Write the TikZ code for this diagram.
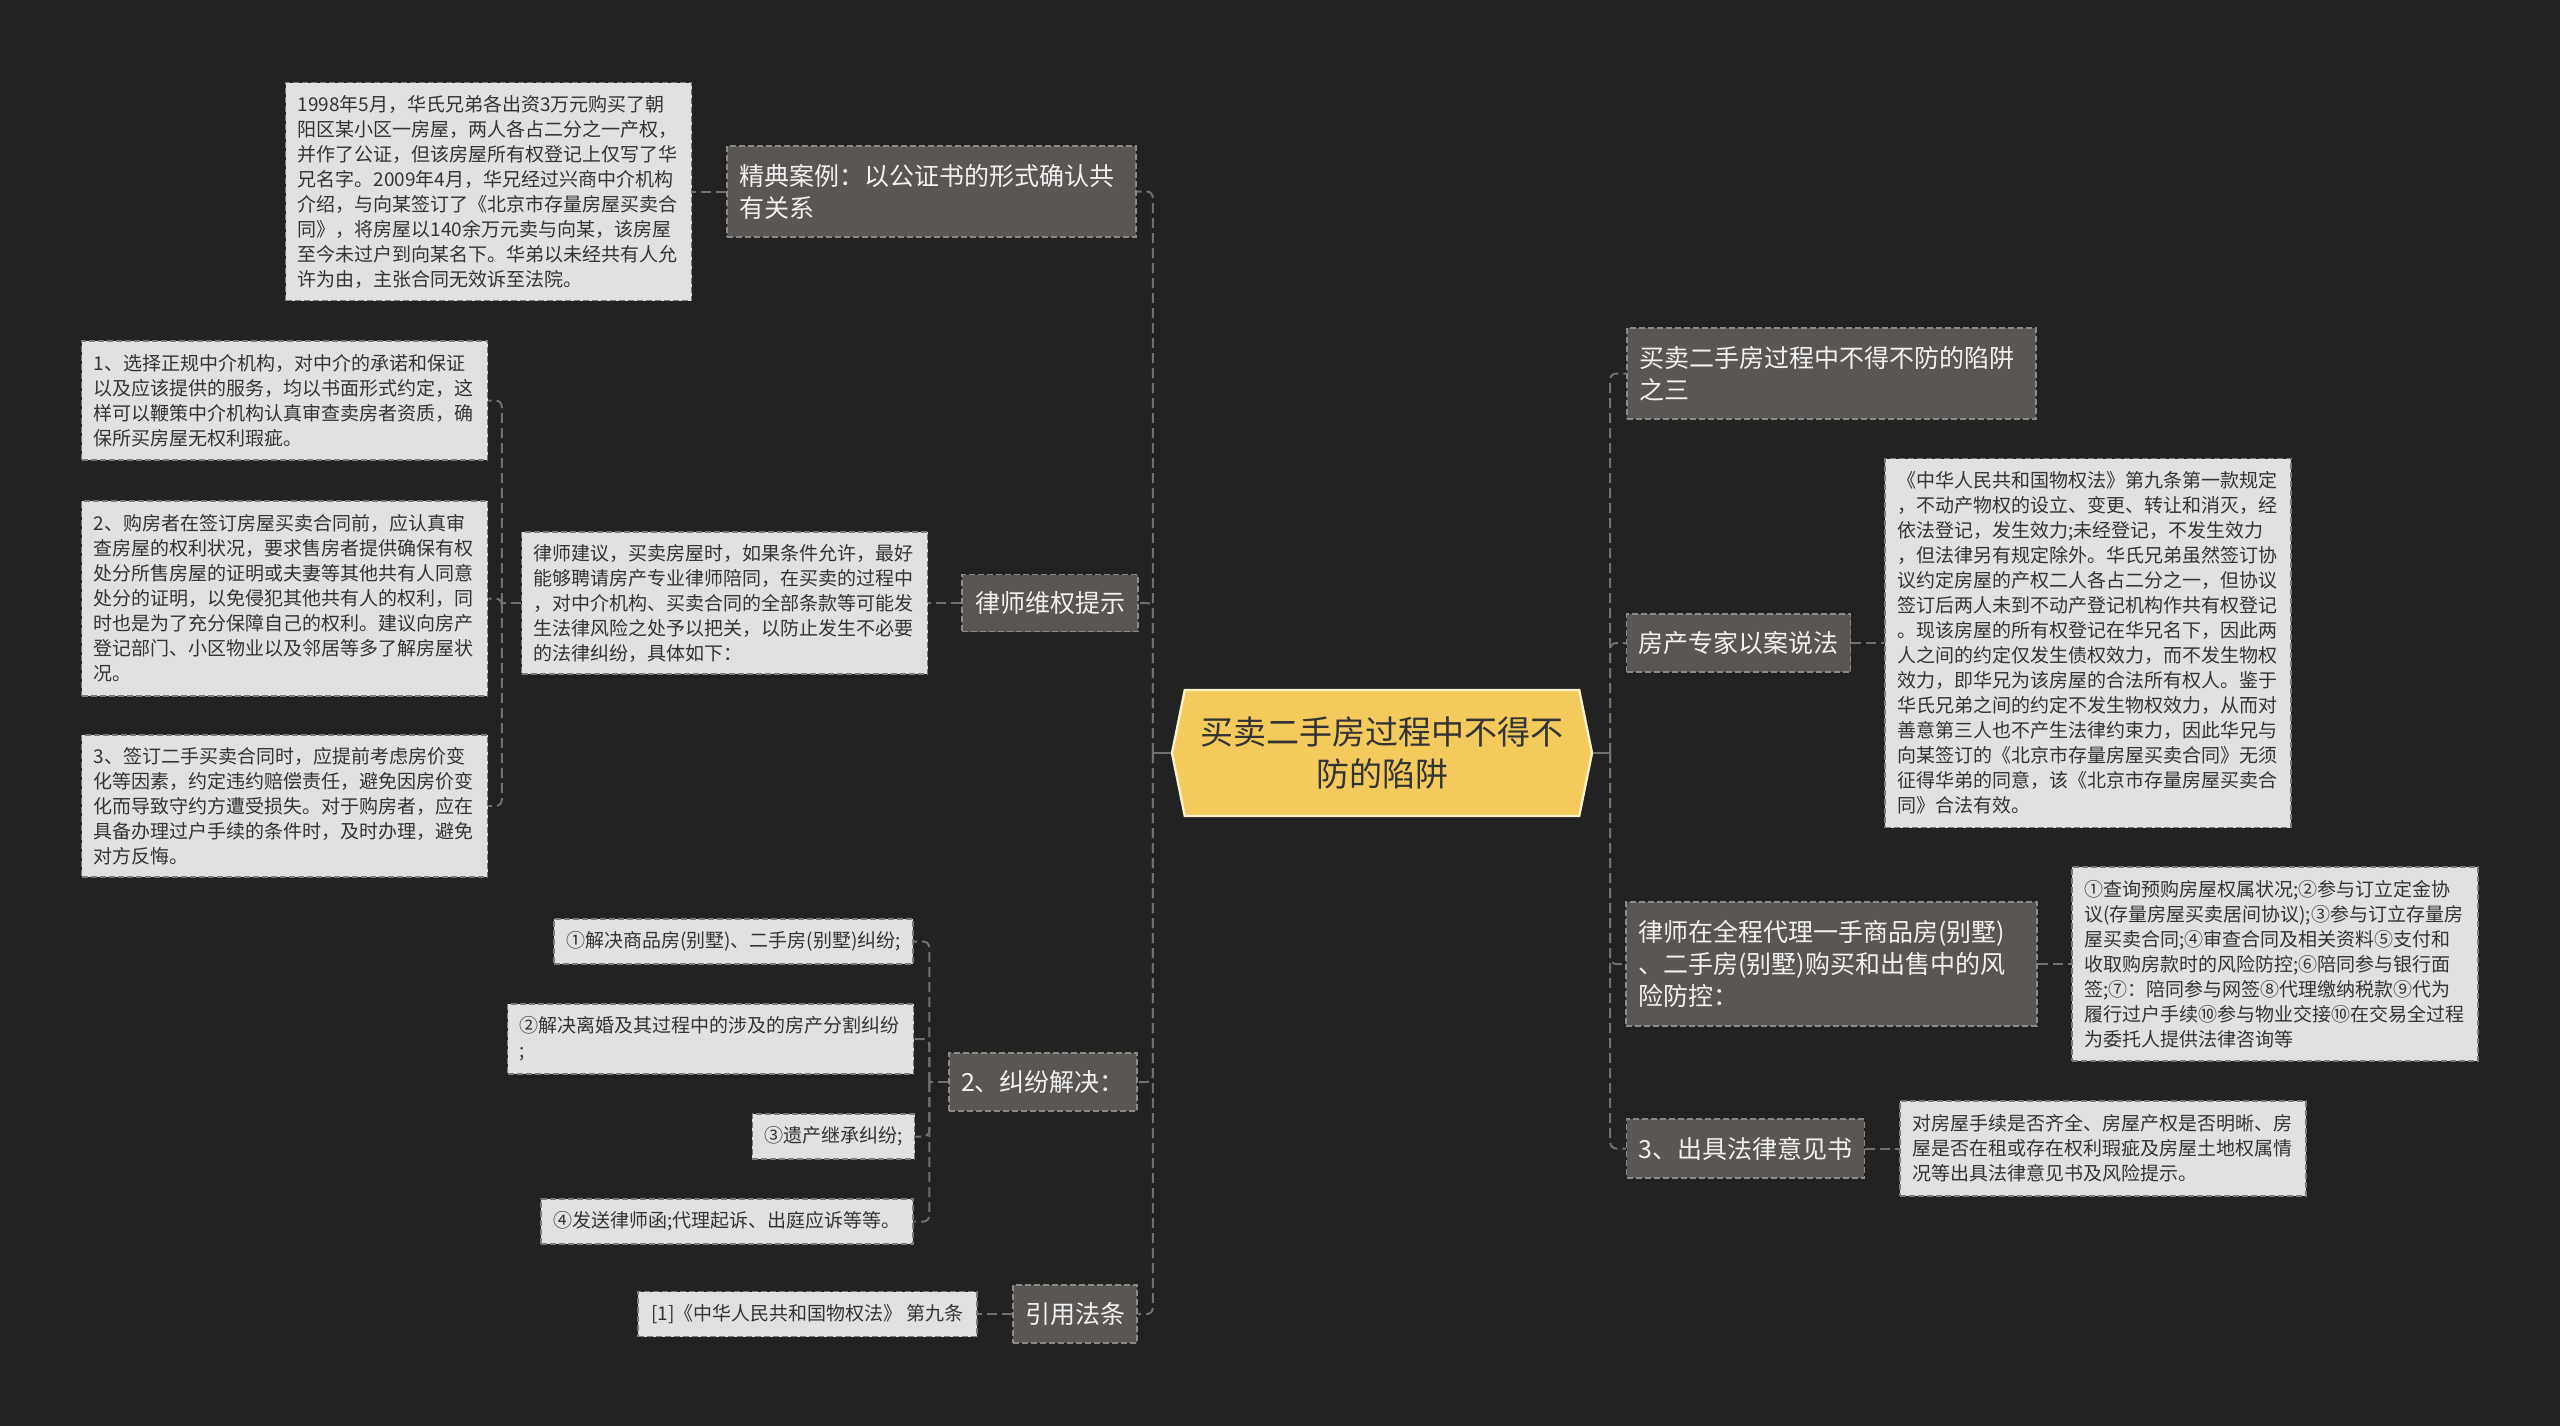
\documentclass[tikz,border=0pt]{standalone}
\usepackage{fontspec}
\setmainfont{Noto Sans CJK SC}
\usetikzlibrary{shapes.symbols}
\definecolor{bgcol}{HTML}{222222}
\definecolor{branchcol}{HTML}{5A5653}
\definecolor{branchline}{HTML}{8C8884}
\definecolor{leafcol}{HTML}{E1E1E1}
\definecolor{leafline}{HTML}{7A7A7A}
\definecolor{rootcol}{HTML}{F4CA5C}
\definecolor{rootline}{HTML}{FBF0C8}
\definecolor{linkcol}{HTML}{707070}
\definecolor{inkcol}{HTML}{333333}
\tikzset{
	branch/.style={draw=branchline, fill=branchcol, line width=0.75pt, dash pattern=on 3pt off 1.5pt, text=white!95!black, font=\fontsize{12.5pt}{16pt}\selectfont, align=left, inner xsep=6pt, inner ysep=0pt},
	leaf/.style={draw=leafline, fill=leafcol, line width=0.75pt, dash pattern=on 3pt off 1.5pt, text=inkcol, font=\fontsize{9.5pt}{12.5pt}\selectfont, align=left, inner xsep=6pt, inner ysep=0pt},
	root/.style={signal, signal to=west and east, signal pointer angle=157, draw=rootline, fill=rootcol, line width=1.2pt, text=inkcol, font=\fontsize{16.5pt}{21pt}\selectfont, align=center, inner xsep=4pt, inner ysep=0pt},
	link/.style={draw=linkcol, line width=1pt, dash pattern=on 5pt off 2.5pt, rounded corners=3pt},
	stem/.style={draw=linkcol, line width=1.2pt},
}

\begin{document}
\begin{tikzpicture}[x=0.5pt, y=-0.5pt]
			%%%%% START %%%%%
			\fill[bgcol] (0, 0) rectangle (2560, 1426);
			\useasboundingbox (0, 0) rectangle (2560, 1426);
			
			\node[root, minimum width=210pt, minimum height=63pt] (root) at (1382, 753) {买卖二手房过程中不得不\\防的陷阱};
			
			% left side
			\node[branch, minimum width=204.5pt, minimum height=45.5pt, text width=192pt] (casebr) at (931.5, 191.5) {精典案例：以公证书的形式确认共\\有关系};
			\node[leaf, minimum width=202.5pt, minimum height=109pt, text width=191pt] (caseleaf) at (488.5, 191.5) {1998年5月，华氏兄弟各出资3万元购买了朝\\阳区某小区一房屋，两人各占二分之一产权，\\并作了公证，但该房屋所有权登记上仅写了华\\兄名字。2009年4月，华兄经过兴商中介机构\\介绍，与向某签订了《北京市存量房屋买卖合\\同》，将房屋以140余万元卖与向某，该房屋\\至今未过户到向某名下。华弟以未经共有人允\\许为由，主张合同无效诉至法院。};
			
			\node[branch, minimum width=88pt, minimum height=28.5pt] (lawyerbr) at (1050, 603) {律师维权提示};
			\node[leaf, minimum width=202.5pt, minimum height=71pt, text width=191pt] (lawyerleaf) at (724.5, 603) {律师建议，买卖房屋时，如果条件允许，最好\\能够聘请房产专业律师陪同，在买卖的过程中\\，对中介机构、买卖合同的全部条款等可能发\\生法律风险之处予以把关，以防止发生不必要\\的法律纠纷，具体如下：};
			\node[leaf, minimum width=202.5pt, minimum height=59.5pt, text width=191pt] (tip1) at (284.5, 400.5) {1、选择正规中介机构，对中介的承诺和保证\\以及应该提供的服务，均以书面形式约定，这\\样可以鞭策中介机构认真审查卖房者资质，确\\保所买房屋无权利瑕疵。};
			\node[leaf, minimum width=202.5pt, minimum height=97.5pt, text width=191pt] (tip2) at (284.5, 598.5) {2、购房者在签订房屋买卖合同前，应认真审\\查房屋的权利状况，要求售房者提供确保有权\\处分所售房屋的证明或夫妻等其他共有人同意\\处分的证明，以免侵犯其他共有人的权利，同\\时也是为了充分保障自己的权利。建议向房产\\登记部门、小区物业以及邻居等多了解房屋状\\况。};
			\node[leaf, minimum width=202.5pt, minimum height=71pt, text width=191pt] (tip3) at (284.5, 806) {3、签订二手买卖合同时，应提前考虑房价变\\化等因素，约定违约赔偿责任，避免因房价变\\化而导致守约方遭受损失。对于购房者，应在\\具备办理过户手续的条件时，及时办理，避免\\对方反悔。};
			
			\node[branch, minimum width=94pt, minimum height=29pt] (disputebr) at (1043, 1082) {2、纠纷解决：};
			\node[leaf, minimum width=179.5pt, minimum height=22.5pt] (dispute1) at (733.5, 941.5) {①解决商品房(别墅)、二手房(别墅)纠纷;};
			\node[leaf, minimum width=202.5pt, minimum height=35pt, text width=191pt] (dispute2) at (710.5, 1039) {②解决离婚及其过程中的涉及的房产分割纠纷\\;};
			\node[leaf, minimum width=79.5pt, minimum height=22.5pt] (dispute3) at (833.5, 1136.5) {③遗产继承纠纷;};
			\node[leaf, minimum width=186pt, minimum height=22.5pt] (dispute4) at (727, 1221.5) {④发送律师函;代理起诉、出庭应诉等等。};
			
			\node[branch, minimum width=62pt, minimum height=29pt] (lawbr) at (1075, 1314) {引用法条};
			\node[leaf, minimum width=169.5pt, minimum height=22.5pt] (lawleaf) at (807.5, 1314) {[1]《中华人民共和国物权法》 第九条};
			
			% right side
			\node[branch, minimum width=204.5pt, minimum height=45.5pt, text width=192pt] (thirdbr) at (1831.5, 373.5) {买卖二手房过程中不得不防的陷阱\\之三};
			
			\node[branch, minimum width=111.5pt, minimum height=29pt] (expertbr) at (1738.5, 643) {房产专家以案说法};
			\node[leaf, minimum width=203pt, minimum height=184.5pt, text width=191pt] (expertleaf) at (2088, 643) {《中华人民共和国物权法》第九条第一款规定\\，不动产物权的设立、变更、转让和消灭，经\\依法登记，发生效力;未经登记，不发生效力\\，但法律另有规定除外。华氏兄弟虽然签订协\\议约定房屋的产权二人各占二分之一，但协议\\签订后两人未到不动产登记机构作共有权登记\\。现该房屋的所有权登记在华兄名下，因此两\\人之间的约定仅发生债权效力，而不发生物权\\效力，即华兄为该房屋的合法所有权人。鉴于\\华氏兄弟之间的约定不发生物权效力，从而对\\善意第三人也不产生法律约束力，因此华兄与\\向某签订的《北京市存量房屋买卖合同》无须\\征得华弟的同意，该《北京市存量房屋买卖合\\同》合法有效。};
			
			\node[branch, minimum width=205.5pt, minimum height=62pt, text width=193pt] (agentbr) at (1831.5, 964) {律师在全程代理一手商品房(别墅)\\、二手房(别墅)购买和出售中的风\\险防控：};
			\node[leaf, minimum width=203pt, minimum height=97pt, text width=191pt] (agentleaf) at (2275, 964) {①查询预购房屋权属状况;②参与订立定金协\\议(存量房屋买卖居间协议);③参与订立存量房\\屋买卖合同;④审查合同及相关资料⑤支付和\\收取购房款时的风险防控;⑥陪同参与银行面\\签;⑦：陪同参与网签⑧代理缴纳税款⑨代为\\履行过户手续⑩参与物业交接⑩在交易全过程\\为委托人提供法律咨询等};
			
			\node[branch, minimum width=118.5pt, minimum height=29.5pt] (opinionbr) at (1745.5, 1148.5) {3、出具法律意见书};
			\node[leaf, minimum width=203pt, minimum height=47.5pt, text width=191pt] (opinionleaf) at (2103, 1148.5) {对房屋手续是否齐全、房屋产权是否明晰、房\\屋是否在租或存在权利瑕疵及房屋土地权属情\\况等出具法律意见书及风险提示。};
			
			% connectors
			\draw[stem] (root.west) -- ++(-18, 0) coordinate (ltrunk);
			\draw[stem] (root.east) -- ++(17, 0) coordinate (rtrunk);
			\draw[link] (ltrunk) |- (casebr.east);
			\draw[link] (ltrunk) |- (lawyerbr.east);
			\draw[link] (ltrunk) |- (disputebr.east);
			\draw[link] (ltrunk) |- (lawbr.east);
			\draw[link] (rtrunk) |- (thirdbr.west);
			\draw[link] (rtrunk) |- (expertbr.west);
			\draw[link] (rtrunk) |- (agentbr.west);
			\draw[link] (rtrunk) |- (opinionbr.west);
			
			\draw[link] (casebr.west) -- (caseleaf.east);
			\draw[link] (lawyerbr.west) -- (lawyerleaf.east);
			\draw[link] (lawyerleaf.west) -- ++(-19, 0) coordinate (tipbus);
			\draw[link] (tipbus) |- (tip1.east);
			\draw[link] (tipbus) |- (tip2.east);
			\draw[link] (tipbus) |- (tip3.east);
			\draw[link] (disputebr.west) -- ++(-19, 0) coordinate (disputebus);
			\draw[link] (disputebus) |- (dispute1.east);
			\draw[link] (disputebus) |- (dispute2.east);
			\draw[link] (disputebus) |- (dispute3.east);
			\draw[link] (disputebus) |- (dispute4.east);
			\draw[link] (lawbr.west) -- (lawleaf.east);
			
			\draw[link] (expertbr.east) -- (expertleaf.west);
			\draw[link] (agentbr.east) -- (agentleaf.west);
			\draw[link] (opinionbr.east) -- (opinionleaf.west);
			%%%%% END %%%%%
		\end{tikzpicture}
\end{document}
